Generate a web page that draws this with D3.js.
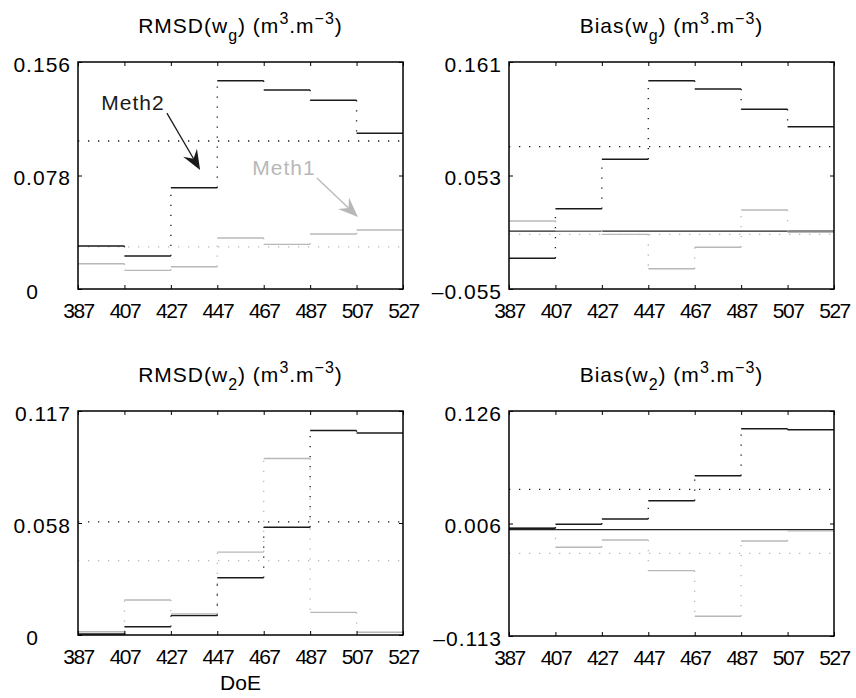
<!DOCTYPE html>
<html>
<head>
<meta charset="utf-8">
<script src="https://cdn.jsdelivr.net/npm/d3@7"></script>
<style>
  body { margin: 0; background: #fff; }
  svg text { font-family: "Liberation Sans", Arial, sans-serif; fill: #000; }
</style>
</head>
<body>
<div id="chart"></div>
<script>
// step edges (DoE)
var doe = [387, 407, 427, 447, 467, 487, 507, 527];

// series values, one per step
var rmsdWgMeth1 = [0.0174, 0.0128, 0.0153, 0.0350, 0.0307, 0.0378, 0.0405];
var rmsdWgMeth2 = [0.0295, 0.0227, 0.0696, 0.1431, 0.1368, 0.1297, 0.1070];
var biasWgMeth1 = [0.0097, 0.0005, -0.0030, -0.0357, -0.0153, 0.0202, -0.0010];
var biasWgMeth2 = [-0.0258, 0.0214, 0.0684, 0.1432, 0.1353, 0.1160, 0.0994];
var rmsdW2Meth1 = [0.0017, 0.0183, 0.0110, 0.0433, 0.0922, 0.0118, 0.0014];
var rmsdW2Meth2 = [0.0005, 0.0043, 0.0101, 0.0299, 0.0563, 0.1068, 0.1055];
var biasW2Meth1 = [0.0019, -0.0188, -0.0110, -0.0436, -0.0921, -0.0121, -0.0012];
var biasW2Meth2 = [0.0014, 0.0057, 0.0113, 0.0307, 0.0573, 0.1072, 0.1061];

// dotted reference levels per panel
var refMeth2 = [0.1017, 0.0804, 0.0591, 0.0428];
var refMeth1 = [0.0289, -0.0030, 0.0388, -0.0252];

// y ticks per panel
var yTicks = [[0, 0.078, 0.156], [-0.055, 0.053, 0.161], [0, 0.0585, 0.117], [-0.113, 0.0065, 0.126]];
var yTickLabels = [["0", "0.078", "0.156"], ["–0.055", "0.053", "0.161"], ["0", "0.058", "0.117"], ["–0.113", "0.006", "0.126"]];

var titles = [
  {name: "RMSD", sub: "g"}, {name: "Bias", sub: "g"},
  {name: "RMSD", sub: "2"}, {name: "Bias", sub: "2"}
];

var panels = [
  {m1: rmsdWgMeth1, m2: rmsdWgMeth2, zero: false, box: {x: 78, y: 62, w: 325, h: 227}},
  {m1: biasWgMeth1, m2: biasWgMeth2, zero: true,  box: {x: 509, y: 62, w: 325, h: 227}},
  {m1: rmsdW2Meth1, m2: rmsdW2Meth2, zero: false, box: {x: 78, y: 411, w: 325, h: 224}},
  {m1: biasW2Meth1, m2: biasW2Meth2, zero: true,  box: {x: 509, y: 411, w: 325, h: 225}}
];

var col1 = "#b8b8b8", col2 = "#1a1a1a";

var svg = d3.select("#chart").append("svg")
  .attr("width", 856).attr("height", 698);

panels.forEach(function (p, i) {
  var b = p.box;
  var x = d3.scaleLinear().domain([doe[0], doe[doe.length - 1]]).range([0, b.w]);
  var y = d3.scaleLinear().domain([yTicks[i][0], yTicks[i][2]]).range([b.h, 0]);
  var g = svg.append("g").attr("transform", "translate(" + b.x + "," + b.y + ")");

  // dotted reference lines
  [[refMeth1[i], col1], [refMeth2[i], col2]].forEach(function (r) {
    g.append("line")
      .attr("x1", 0).attr("x2", b.w)
      .attr("y1", y(r[0])).attr("y2", y(r[0]))
      .style("stroke", r[1]).style("stroke-width", 1.3)
      .style("stroke-dasharray", "1.3,8.7");
  });

  if (p.zero) {
    g.append("line")
      .attr("x1", 0).attr("x2", b.w)
      .attr("y1", y(0)).attr("y2", y(0))
      .style("stroke", "#222").style("stroke-width", 1.3);
  }

  // stairs: dotted risers then solid treads
  [[p.m1, col1], [p.m2, col2]].forEach(function (s) {
    var vals = s[0];
    for (var k = 1; k < vals.length; k++) {
      g.append("line")
        .attr("x1", x(doe[k])).attr("x2", x(doe[k]))
        .attr("y1", y(vals[k - 1])).attr("y2", y(vals[k]))
        .style("stroke", s[1]).style("stroke-width", 1.3)
        .style("stroke-dasharray", "1.3,8.7");
    }
    g.selectAll(null).data(vals).enter().append("line")
      .attr("x1", (d, k) => x(doe[k])).attr("x2", (d, k) => x(doe[k + 1]))
      .attr("y1", d => y(d)).attr("y2", d => y(d))
      .style("stroke", s[1]).style("stroke-width", 1.4);
  });

  // axes with inward ticks
  var fmt = function (d) { return yTickLabels[i][yTicks[i].indexOf(d)]; };
  var tv = [yTicks[i][0], yTicks[i][1], yTicks[i][2]];

  var ax = g.append("g").attr("class", "yaxis")
    .call(d3.axisLeft(y).tickValues(tv).tickFormat(fmt).tickSizeInner(-4).tickSizeOuter(0).tickPadding(8));
  ax.selectAll("text").attr("dy", "0.45em")
    .style("font-size", "21px").style("letter-spacing", "1px")
    .attr("x", d => fmt(d) === "0" ? -39 : -7);

  g.append("g").attr("transform", "translate(" + b.w + ",0)")
    .call(d3.axisRight(y).tickValues(tv).tickFormat("").tickSizeInner(-4).tickSizeOuter(0));

  g.append("g").attr("transform", "translate(0," + b.h + ")")
    .call(d3.axisBottom(x).tickValues(doe).tickFormat(d3.format("d")).tickSizeInner(-4).tickSizeOuter(0).tickPadding(14))
    .selectAll("text")
    .style("font-size", "21px").style("letter-spacing", "-1.5px");

  g.append("g")
    .call(d3.axisTop(x).tickValues(doe).tickFormat("").tickSizeInner(-4).tickSizeOuter(0));

  g.selectAll(".domain").remove();
  g.selectAll(".tick line").style("stroke", "#000");

  g.append("rect")
    .attr("width", b.w).attr("height", b.h)
    .style("fill", "none").style("stroke", "#000").style("stroke-width", 1.5);

  // title
  var t = g.append("text")
    .attr("x", b.w / 2).attr("y", -29)
    .attr("text-anchor", "middle")
    .style("font-size", "21px").style("letter-spacing", "1px");
  t.append("tspan").text(titles[i].name + "(w");
  t.append("tspan").attr("dy", 8).style("font-size", "16px").text(titles[i].sub);
  t.append("tspan").attr("dy", -8).text(") (m");
  t.append("tspan").attr("dy", -9).style("font-size", "16px").text("3");
  t.append("tspan").attr("dy", 9).text(".m");
  t.append("tspan").attr("dy", -9).style("font-size", "16px").text("−3");
  t.append("tspan").attr("dy", 9).text(")");

  if (i === 2) {
    g.append("text")
      .attr("x", b.w / 2).attr("y", b.h + 55)
      .attr("text-anchor", "middle")
      .style("font-size", "21px")
      .text("DoE");
  }

  // annotations in the first panel
  if (i === 0) {
    annotate(g, x, y, "Meth2", col2, [410.7, 0.123], [425.3, 0.1209], [439.6, 0.0818]);
    annotate(g, x, y, "Meth1", col1, [475.7, 0.0783], [489.9, 0.0763], [507.6, 0.0495]);
  }
});

function annotate(g, x, y, label, color, at, from, to) {
  g.append("text")
    .attr("x", x(at[0])).attr("y", y(at[1]))
    .attr("text-anchor", "middle")
    .style("font-size", "21px").style("letter-spacing", "1px")
    .style("fill", color)
    .text(label);

  var x1 = x(from[0]), y1 = y(from[1]), x2 = x(to[0]), y2 = y(to[1]);
  var ang = Math.atan2(y2 - y1, x2 - x1);
  var len = 20, half = 8, notch = 13;
  var ux = Math.cos(ang), uy = Math.sin(ang);
  var bx = x2 - ux * len, by = y2 - uy * len;
  var nx = x2 - ux * notch, ny = y2 - uy * notch;

  g.append("line")
    .attr("x1", x1).attr("y1", y1).attr("x2", nx).attr("y2", ny)
    .style("stroke", color).style("stroke-width", 1.3);

  g.append("path")
    .attr("d", "M" + x2 + "," + y2 +
      "L" + (bx - uy * half) + "," + (by + ux * half) +
      "L" + nx + "," + ny +
      "L" + (bx + uy * half) + "," + (by - ux * half) + "Z")
    .style("fill", color).style("stroke", "none");
}
</script>
</body>
</html>
